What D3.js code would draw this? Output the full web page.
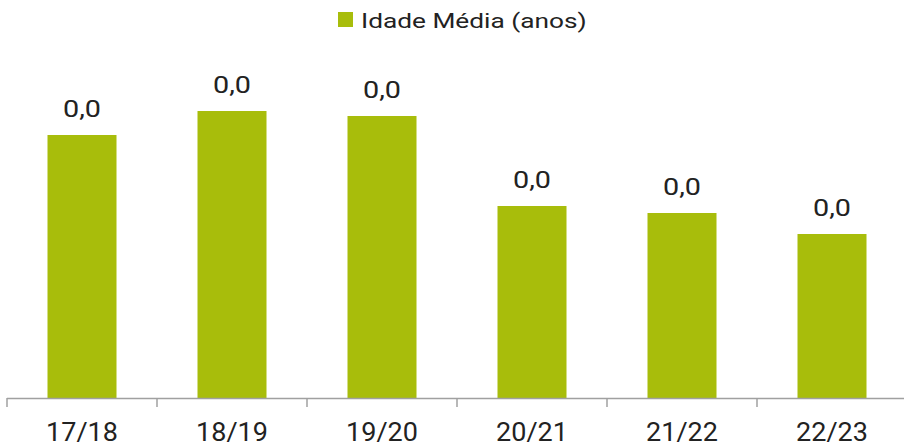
<!DOCTYPE html>
<html><head><meta charset="utf-8">
<script src="https://cdn.jsdelivr.net/npm/d3@7"></script>
<style>body{margin:0;background:#fff}svg{display:block}text{font-family:Roboto,"Noto Sans",sans-serif}</style>
</head><body>
<div id="chart"></div>
<script>
const categories = ["17/18","18/19","19/20","20/21","21/22","22/23"];
const values = [26.3, 28.7, 28.2, 19.2, 18.5, 16.4];
const valueLabels = ["0,0","0,0","0,0","0,0","0,0","0,0"];
const seriesName = "Idade Média (anos)";

const W = 904, H = 448;
const barColor = "#a8bd0b";
const svg = d3.select("#chart").append("svg").attr("width", W).attr("height", H);

const x = d3.scaleBand().domain(categories).range([7, 907]).paddingInner(0.54).paddingOuter(0.27);
const y = d3.scaleLinear().domain([0, 30]).range([398, 98]);

// bars
svg.selectAll("rect.bar").data(values).join("rect")
  .attr("class","bar")
  .attr("x", (d,i) => x(categories[i]))
  .attr("width", x.bandwidth())
  .attr("y", d => y(d))
  .attr("height", d => y(0) - y(d))
  .attr("fill", barColor);

// value labels
svg.selectAll("text.vl").data(values).join("text")
  .attr("class","vl")
  .attr("transform", (d,i) => `translate(${x(categories[i]) + x.bandwidth()/2},${y(d) - 18}) scale(1.25,1)`)
  .attr("text-anchor","middle")
  .attr("font-size", 23)
  .attr("fill", "#222")
  .text((d,i) => valueLabels[i]);

// x axis
const step = x.step();
const axis = svg.append("g");
axis.append("line").attr("x1", 7).attr("x2", W).attr("y1", 398.5).attr("y2", 398.5)
  .attr("stroke", "#a0a0a0").attr("stroke-width", 1.5);
const tickPos = d3.range(categories.length + 1).map(i => 7 + i * step);
axis.selectAll("line.tk").data(tickPos).join("line").attr("class","tk")
  .attr("x1", d => d).attr("x2", d => d).attr("y1", 398).attr("y2", 407)
  .attr("stroke", "#a0a0a0").attr("stroke-width", 1.5);
axis.selectAll("text.xl").data(categories).join("text").attr("class","xl")
  .attr("transform", d => `translate(${x(d) + x.bandwidth()/2},441) scale(1.08,1)`)
  .attr("text-anchor","middle")
  .attr("font-size", 25)
  .attr("fill", "#222")
  .text(d => d);

// legend
const lg = svg.append("g");
lg.append("rect").attr("x", 338).attr("y", 12).attr("width", 15).attr("height", 15).attr("fill", barColor);
lg.append("text").attr("transform", "translate(361,28) scale(1.25,1)")
  .attr("font-size", 21).attr("fill", "#222").text(seriesName);
</script>
</body></html>
